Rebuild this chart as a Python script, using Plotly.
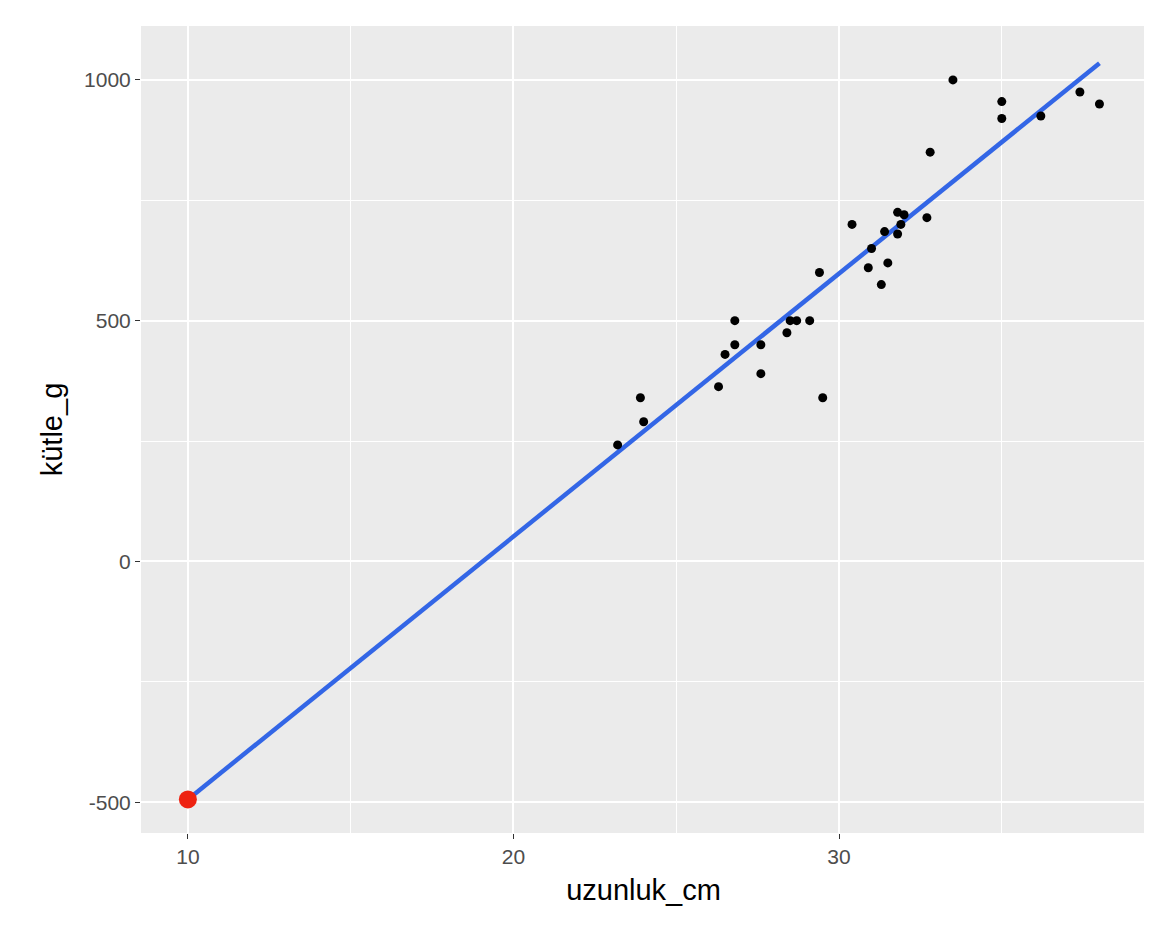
import numpy as np
import plotly.graph_objects as go

uzunluk_cm = [23.2, 23.9, 24.0, 26.3, 26.5, 26.8, 26.8, 27.6, 27.6, 28.4, 28.5, 28.7,
              29.1, 29.4, 29.5, 30.4, 30.9, 31.0, 31.3, 31.4, 31.5, 31.8, 31.8, 32.0,
              31.9, 32.7, 32.8, 33.5, 35.0, 35.0, 36.2, 37.4, 38.0]
kutle_g = [242, 340, 290, 363, 430, 500, 450, 450, 390, 475, 500, 500,
           500, 600, 340, 700, 610, 650, 575, 685, 620, 725, 680, 720,
           700, 714, 850, 1000, 955, 920, 925, 975, 950]
tahmin_x = 10
y_ticks = [-500, 0, 500, 1000]
y_ticktext = ["-500", "0", "500", "1000"]

# simple linear fit, extended down to the prediction point
b, a = np.polyfit(uzunluk_cm, kutle_g, 1)
line_x = np.array([tahmin_x, max(uzunluk_cm)])
line_y = a + b * line_x

fig = go.Figure()
fig.add_trace(go.Scatter(x=line_x, y=line_y, mode="lines",
                         line=dict(color="#3366e6", width=4.5), showlegend=False))
fig.add_trace(go.Scatter(x=uzunluk_cm, y=kutle_g, mode="markers",
                         marker=dict(color="black", size=9), showlegend=False))
fig.add_trace(go.Scatter(x=[tahmin_x], y=[a + b * tahmin_x], mode="markers",
                         marker=dict(color="#ee2211", size=18), showlegend=False))

axis = dict(showgrid=True, gridcolor="white", gridwidth=2, zeroline=False,
            ticks="outside", ticklen=5, tickcolor="#333333", automargin=False,
            tickfont=dict(size=21, color="#4d4d4d"))
fig.update_layout(
    width=1152, height=928,
    margin=dict(l=133, r=14, t=18, b=103),
    plot_bgcolor="#ebebeb", paper_bgcolor="white",
    font=dict(family="Liberation Sans, Arial, sans-serif"),
    xaxis=dict(axis, range=[8.56, 39.43], tickvals=[10, 20, 30],
               title=dict(text="uzunluk_cm", font=dict(size=29, color="black"), standoff=12),
               minor=dict(showgrid=True, gridcolor="white", gridwidth=1, tickvals=[15, 25, 35])),
    yaxis=dict(axis, range=[-564, 1112], tickvals=y_ticks, ticktext=y_ticktext,
               title=dict(text="kütle_g", font=dict(size=29, color="black"), standoff=12),
               minor=dict(showgrid=True, gridcolor="white", gridwidth=1, tickvals=[-250, 250, 750])),
)
fig.write_html("out.html")
